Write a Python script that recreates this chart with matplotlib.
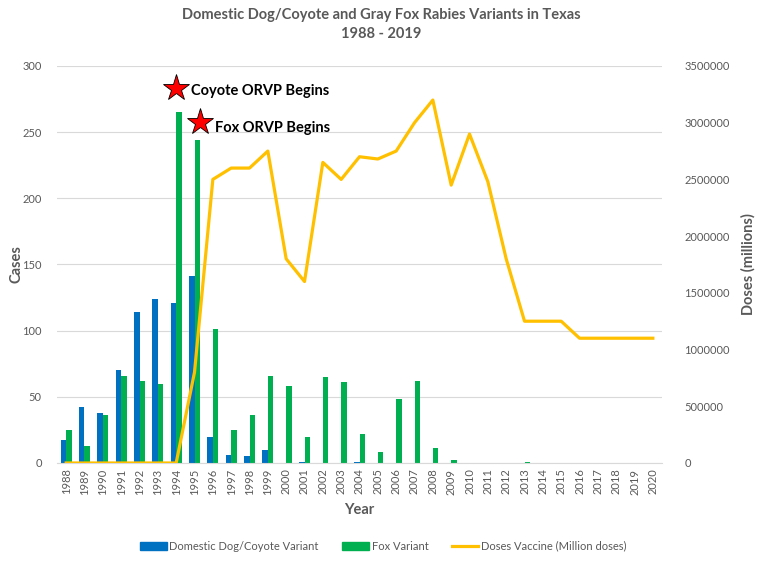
import matplotlib
matplotlib.use("Agg")
import matplotlib.pyplot as plt
from matplotlib.patches import Patch
from matplotlib.lines import Line2D
import numpy as np

plt.rcParams['font.family'] = ['Lato', 'DejaVu Sans']

years = [str(y) for y in range(1988, 2021)]
dog_coyote = [17, 42, 38, 70, 114, 124, 121, 141, 20, 6, 5, 10, 0, 1, 0, 0, 1, 0,
              0, 0, 0, 0, 0, 0, 0, 0, 0, 0, 0, 0, 0, 0, 0]
fox = [25, 13, 36, 66, 62, 60, 265, 244, 101, 25, 36, 66, 58, 20, 65, 61, 22, 8,
       48, 62, 11, 2, 0, 0, 0, 1, 0, 0, 0, 0, 0, 0, 0]
doses = [0, 0, 0, 0, 0, 0, 0, 800000, 2500000, 2600000, 2600000, 2750000, 1800000,
         1600000, 2650000, 2500000, 2700000, 2680000, 2750000, 3000000, 3200000,
         2450000, 2900000, 2480000, 1800000, 1250000, 1250000, 1250000, 1100000,
         1100000, 1100000, 1100000, 1100000]

gray = '#595959'
blue = '#0070C0'
green = '#00B050'
gold = '#FFC000'

fig = plt.figure(figsize=(7.62, 5.66), dpi=100)
ax = fig.add_axes([0.0748, 0.182, 0.794, 0.7014])
ax2 = ax.twinx()

x = np.arange(len(years))
w = 0.3
ax.bar(x - w / 2, dog_coyote, w, color=blue, zorder=2)
ax.bar(x + w / 2, fox, w, color=green, zorder=2)
ax2.plot(x, doses, color=gold, lw=2.3, zorder=3)

ax.set_xlim(-0.5, len(years) - 0.5)
ax.set_ylim(0, 300)
ax.set_yticks(range(0, 301, 50))
ax2.set_ylim(0, 3500000)
ax2.set_yticks(range(0, 3500001, 500000))
ax2.set_yticklabels([str(v) for v in range(0, 3500001, 500000)])

ax.set_xticks(x)
ax.set_xticklabels(years, rotation=90)
ax.grid(axis='y', color='#d9d9d9', lw=0.8, zorder=0)
ax.set_axisbelow(True)

for a in (ax, ax2):
    for s in a.spines.values():
        s.set_visible(False)
    a.tick_params(length=0, colors=gray, labelsize=8)
ax.spines['bottom'].set_visible(True)
ax.spines['bottom'].set_color('#d9d9d9')
ax.tick_params(axis='x', pad=4)
ax.tick_params(axis='y', pad=11)
ax2.tick_params(axis='y', pad=16)

ax.set_xlabel('Year', fontsize=10.5, fontweight='bold', color=gray, labelpad=6)
ax.set_ylabel('Cases', fontsize=10.5, fontweight='bold', color=gray)
ax2.set_ylabel('Doses (millions)', fontsize=10.5, fontweight='bold', color=gray)
ax.yaxis.set_label_coords(-0.056, 0.5)
ax2.yaxis.set_label_coords(1.130, 0.5)

fig.suptitle('Domestic Dog/Coyote and Gray Fox Rabies Variants in Texas\n1988 - 2019',
             x=0.5, y=0.985, fontsize=10.5, fontweight='bold', color=gray, linespacing=1.4)

# ORVP start markers, drawn on the top axes (dose scale) so they sit above everything
k = 3500000 / 300
ax2.plot([6], [283 * k], marker='*', ms=20, color='red', mec='black', mew=0.6,
         clip_on=False, zorder=5)
ax2.text(6.8, 281 * k, 'Coyote ORVP Begins', fontsize=10.5, fontweight='bold',
         va='center', ha='left', zorder=5)
ax2.plot([7.3], [258 * k], marker='*', ms=20, color='red', mec='black', mew=0.6,
         clip_on=False, zorder=5)
ax2.text(8.1, 253 * k, 'Fox ORVP Begins', fontsize=10.5, fontweight='bold',
         va='center', ha='left', zorder=5)

handles = [Patch(color=blue), Patch(color=green), Line2D([], [], color=gold, lw=2.3)]
labels = ['Domestic Dog/Coyote Variant', 'Fox Variant', 'Doses Vaccine (Million doses)']
fig.legend(handles, labels, loc='center', bbox_to_anchor=(0.503, 0.035), ncol=3,
           frameon=False, fontsize=8, labelcolor=gray, handlelength=2.4,
           handleheight=0.7, columnspacing=2.1, handletextpad=0.25)

fig.savefig('out.png', dpi=100)
